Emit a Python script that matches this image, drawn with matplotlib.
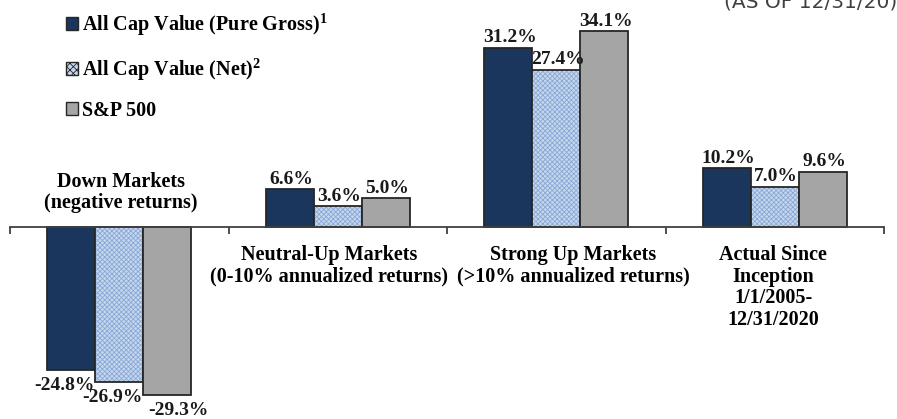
import matplotlib.pyplot as plt
import matplotlib.patches as mpatches
import numpy as np

categories = [
    "Down Markets\n(negative returns)",
    "Neutral-Up Markets\n(0-10% annualized returns)",
    "Strong Up Markets\n(>10% annualized returns)",
    "Actual Since\nInception\n1/1/2005-\n12/31/2020",
]
gross = [-24.8, 6.6, 31.2, 10.2]
net = [-26.9, 3.6, 27.4, 7.0]
sp500 = [-29.3, 5.0, 34.1, 9.6]
series_names = [
    r"All Cap Value (Pure Gross)$^{\mathbf{1}}$",
    r"All Cap Value (Net)$^{\mathbf{2}}$",
    "S&P 500",
]

plt.rcParams["font.family"] = "Liberation Serif"
plt.rcParams["font.weight"] = "bold"
plt.rcParams["mathtext.fontset"] = "custom"
plt.rcParams["mathtext.bf"] = "Liberation Serif:bold"
plt.rcParams["mathtext.rm"] = "Liberation Serif:bold"
plt.rcParams["hatch.linewidth"] = 0.6

navy = "#1b365d"
light = "#c6d7ee"
grey = "#a5a5a5"
edge = "#262626"

fig = plt.figure(figsize=(8.97, 4.19), dpi=100)
ax = fig.add_axes([10 / 897, 0, 874 / 897, 1])

x = np.arange(len(categories)) + 0.5
w = 0.22

ax.bar(x - w, gross, w, color=navy, edgecolor=edge, linewidth=1.3)
ax.bar(x, net, w, color=light, edgecolor="#8aa8d6", hatch="xxxxxxx", linewidth=0)
ax.bar(x, net, w, fill=False, edgecolor=edge, linewidth=1.3)
ax.bar(x + w, sp500, w, color=grey, edgecolor=edge, linewidth=1.3)

# labels under the negative bars are nudged sideways like excel does
lab_kw = dict(ha="center", fontsize=14, fontweight="bold", color="#1a1a1a")
for off, vals, nudge in [(-w, gross, -5), (0, net, -5), (w, sp500, 8)]:
    for xi, v in zip(x, vals):
        if v >= 0:
            ax.annotate(f"{v:.1f}%", (xi + off, v), xytext=(1, 1),
                        textcoords="offset points", va="bottom", **lab_kw)
        else:
            ax.annotate(f"{v:.1f}%", (xi + off, v), xytext=(nudge, -5),
                        textcoords="offset points", va="top", **lab_kw)

cat_nudge = [1, -6, 12, -1]
for i, (xi, cat) in enumerate(zip(x, categories)):
    if gross[i] < 0:
        ax.annotate(cat, (xi, 0), xytext=(cat_nudge[i], 10), textcoords="offset points",
                    ha="center", va="bottom", fontsize=14.5, linespacing=1.1)
    else:
        ax.annotate(cat, (xi, 0), xytext=(cat_nudge[i], -13), textcoords="offset points",
                    ha="center", va="top", fontsize=14.5, linespacing=1.1)

ax.set_xlim(0, 4)
ax.set_ylim(-33.4, 39.5)
for s in ["top", "right", "left"]:
    ax.spines[s].set_visible(False)
ax.spines["bottom"].set_position(("data", 0))
ax.spines["bottom"].set_color("#404040")
ax.spines["bottom"].set_linewidth(1.3)
ax.set_xticks(np.arange(0, 5))
ax.set_xticklabels([])
ax.tick_params(axis="x", direction="out", length=5, color="#404040", width=1.3)
ax.set_yticks([])

handles = [
    mpatches.Patch(facecolor=navy, edgecolor=edge),
    mpatches.Patch(facecolor=light, edgecolor=edge, hatch="xxxxx"),
    mpatches.Patch(facecolor=grey, edgecolor=edge),
]
fig.legend(handles, series_names, loc="upper left",
           bbox_to_anchor=(66 / 897, 1 - 11 / 419),
           frameon=False, fontsize=14.5, labelspacing=0.9, handlelength=0.62,
           handleheight=0.62, handletextpad=0.15, borderaxespad=0, borderpad=0)

fig.text(1.0, 1 - 12 / 419, "(AS OF 12/31/20)", ha="right", va="bottom",
         fontsize=14.5, family="DejaVu Sans", fontweight="normal", color="#404040")

fig.savefig("out.png", dpi=100)
